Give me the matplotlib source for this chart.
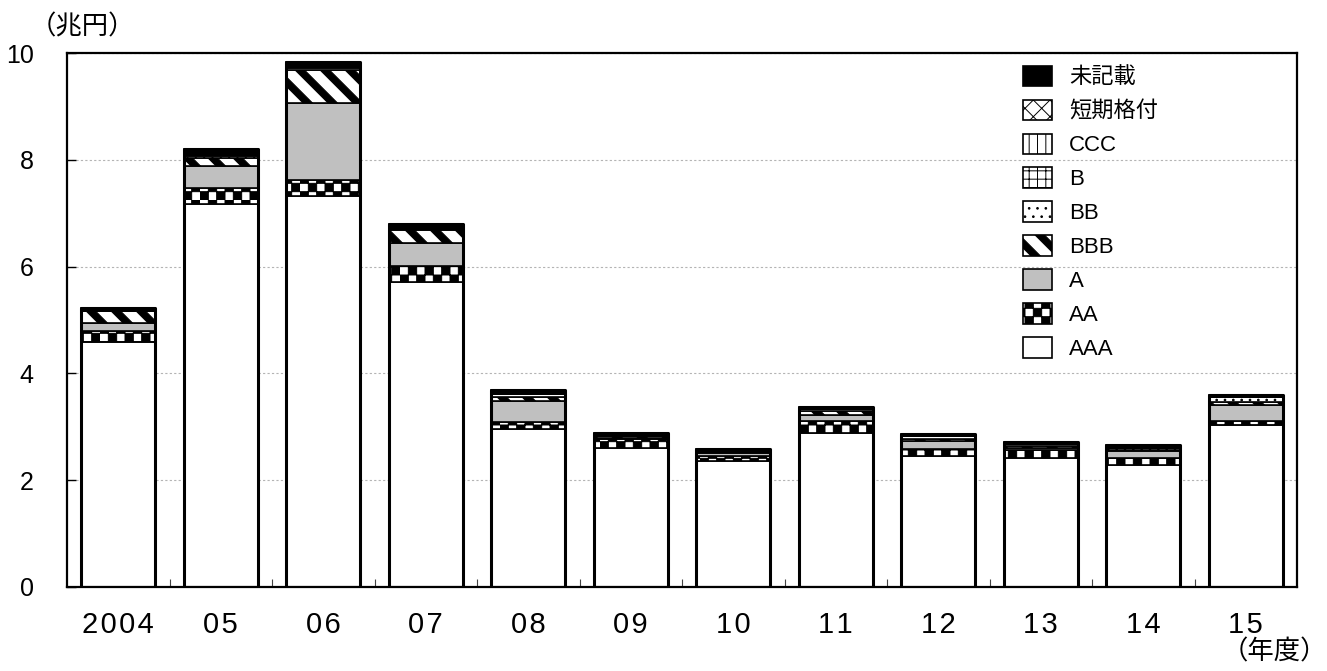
"""Stacked bars: outstanding amount by credit rating, FY2004-2015."""

import warnings

import matplotlib
matplotlib.use("Agg")
import matplotlib.pyplot as plt
import numpy as np
from matplotlib import hatch as mhatch
from matplotlib.path import Path

warnings.filterwarnings("ignore", message=".*hatch must consist.*")

YEARS = ["2004", "05", "06", "07", "08", "09", "10", "11", "12", "13", "14", "15"]
RATINGS = ["AAA", "AA", "A", "BBB", "BB", "B", "CCC", "短期格付", "未記載"]

# 兆円, bottom to top of each bar
AAA = [4.58, 7.17, 7.33, 5.71, 2.95, 2.61, 2.36, 2.89, 2.46, 2.41, 2.29, 3.03]
AA = [0.21, 0.31, 0.29, 0.30, 0.14, 0.16, 0.10, 0.21, 0.13, 0.16, 0.12, 0.08]
A = [0.16, 0.41, 1.45, 0.44, 0.39, 0.02, 0.04, 0.13, 0.15, 0.03, 0.14, 0.29]
BBB = [0.21, 0.15, 0.62, 0.23, 0.07, 0.03, 0.03, 0.06, 0.03, 0.04, 0.02, 0.06]
BB = [0.01, 0.03, 0.03, 0.03, 0.06, 0.01, 0.01, 0.04, 0.05, 0.03, 0.04, 0.09]
B = [0.00, 0.02, 0.02, 0.01, 0.01, 0.00, 0.00, 0.00, 0.01, 0.00, 0.00, 0.01]
CCC = [0.00, 0.01, 0.02, 0.01, 0.01, 0.00, 0.00, 0.00, 0.00, 0.00, 0.00, 0.00]
SHORT_TERM = [0.00, 0.02, 0.02, 0.00, 0.01, 0.00, 0.00, 0.01, 0.01, 0.01, 0.01, 0.00]
UNRATED = [0.06, 0.08, 0.06, 0.07, 0.04, 0.05, 0.05, 0.04, 0.03, 0.04, 0.03, 0.03]

SERIES = [AAA, AA, A, BBB, BB, B, CCC, SHORT_TERM, UNRATED]
STYLES = [
    ("white", None),
    ("white", "k"),      # checkerboard
    ("#c0c0c0", None),
    ("white", "z"),      # thick back-slash stripes
    ("white", ".."),
    ("white", "++"),
    ("white", "||"),
    ("white", "xx"),
    ("black", None),
]

CLOSED_QUAD = [Path.MOVETO, Path.LINETO, Path.LINETO, Path.LINETO, Path.CLOSEPOLY]


class CheckerHatch(mhatch.HatchPatternBase):
    """Filled checkerboard, 'k' in a hatch string."""

    def __init__(self, hatch, density):
        self.num_cells = 2 * hatch.count("k") * density
        self.num_vertices = 5 * (self.num_cells ** 2 // 2)

    def set_vertices_and_codes(self, vertices, codes):
        n = self.num_cells
        step = 1.0 / n
        square = np.array([[0, 0], [1, 0], [1, 1], [0, 1], [0, 0]]) * step
        cells = [(i, j) for i in range(n) for j in range(n) if (i + j) % 2 == 0]
        for k, (i, j) in enumerate(cells):
            vertices[5 * k:5 * k + 5] = square + (i * step, j * step)
            codes[5 * k:5 * k + 5] = CLOSED_QUAD


class ThickStripeHatch(mhatch.HatchPatternBase):
    """Filled, wide '\\' stripes, 'z' in a hatch string."""

    def __init__(self, hatch, density):
        self.num_stripes = hatch.count("z") * density * 2 // 3
        self.num_vertices = 5 * (2 * self.num_stripes + 1) if self.num_stripes else 0

    def set_vertices_and_codes(self, vertices, codes):
        m = self.num_stripes
        w = 0.38 / m
        for k, off in enumerate(np.arange(-m, m + 1) / m):
            vertices[5 * k:5 * k + 5] = [(off, 1), (off + w, 1), (off + w + 1, 0),
                                         (off + 1, 0), (off, 1)]
            codes[5 * k:5 * k + 5] = CLOSED_QUAD


mhatch._hatch_types.extend([CheckerHatch, ThickStripeHatch])


def main():
    plt.rcParams["font.family"] = ["Liberation Sans", "Noto Sans CJK JP", "DejaVu Sans"]
    plt.rcParams["hatch.linewidth"] = 0.7
    plt.rcParams["hatch.color"] = "black"

    fig = plt.figure(figsize=(13.27, 6.71), dpi=100)
    ax = fig.add_axes([0.0505, 0.1252, 0.9269, 0.7958])

    x = np.arange(len(YEARS))
    width = 0.72
    bottom = np.zeros(len(YEARS))
    for vals, label, (face, hatch) in zip(SERIES, RATINGS, STYLES):
        ax.bar(x, vals, width, bottom=bottom, color=face, edgecolor="black",
               linewidth=1.2, hatch=hatch, label=label, zorder=2)
        bottom += np.array(vals)

    # heavier outline round each whole bar
    ax.bar(x, bottom, width, fill=False, edgecolor="black", linewidth=2.2,
           joinstyle="round", zorder=3)

    ax.set_xlim(-0.5, len(YEARS) - 0.5)
    ax.set_ylim(0, 10)
    ax.set_yticks(np.arange(0, 11, 2))
    ax.set_xticks(x)
    ax.set_xticklabels(["\u200a".join(y) for y in YEARS], fontsize=21)
    ax.set_xticks(x[:-1] + 0.5, minor=True)
    ax.tick_params(axis="x", which="major", length=0, pad=17)
    ax.tick_params(axis="x", which="minor", direction="in", length=6,
                   width=0.8, color="#444444")
    ax.tick_params(axis="y", direction="in", length=6.5, width=1.0,
                   labelsize=18, pad=24)
    ax.yaxis.grid(True, color="#b4b4b4", linestyle=(0, (2, 2)), linewidth=0.8)
    ax.set_axisbelow(True)
    for spine in ax.spines.values():
        spine.set_linewidth(1.6)

    handles, labels = ax.get_legend_handles_labels()
    ax.legend(handles[::-1], labels[::-1], loc="upper left",
              bbox_to_anchor=(0.770, 0.993), frameon=False, fontsize=16,
              handlelength=1.3, handleheight=1.04, handletextpad=0.77,
              labelspacing=0.5, borderaxespad=0)

    fig.text(30 / 1327, 1 - 26.5 / 671, "（兆円）", fontsize=19,
             ha="left", va="center")
    fig.text(1222 / 1327, 1 - 652 / 671, "（年度）", fontsize=19,
             ha="left", va="center")

    fig.savefig("out.png", dpi=100)
    plt.close(fig)


if __name__ == "__main__":
    main()
